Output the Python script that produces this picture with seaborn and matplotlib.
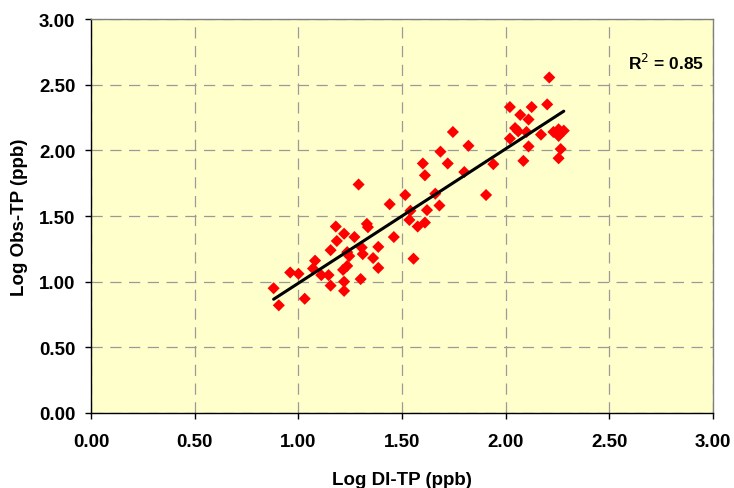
import numpy as np
import pandas as pd
import matplotlib
matplotlib.use("Agg")
import matplotlib.pyplot as plt
import seaborn as sns

log_di_tp = [0.88, 0.905, 0.96, 1.00, 1.03, 1.08, 1.07, 1.11, 1.145, 1.155,
             1.155, 1.185, 1.18, 1.22, 1.22, 1.215, 1.235, 1.245, 1.235, 1.22,
             1.27, 1.29, 1.30, 1.305, 1.31, 1.33, 1.335, 1.36, 1.385, 1.385,
             1.44, 1.46, 1.515, 1.54, 1.535, 1.555, 1.575, 1.61, 1.62, 1.60,
             1.61, 1.66, 1.68, 1.685, 1.72, 1.745, 1.80, 1.82, 1.905, 1.94,
             2.02, 2.02, 2.045, 2.06, 2.07, 2.085, 2.10, 2.11, 2.11, 2.125,
             2.17, 2.20, 2.21, 2.23, 2.255, 2.28, 2.255, 2.265, 2.255]
log_obs_tp = [0.95, 0.82, 1.07, 1.06, 0.87, 1.16, 1.10, 1.05, 1.05, 0.97,
              1.24, 1.31, 1.42, 1.00, 0.93, 1.09, 1.12, 1.195, 1.225, 1.365,
              1.34, 1.74, 1.02, 1.26, 1.21, 1.44, 1.415, 1.18, 1.265, 1.105,
              1.59, 1.34, 1.66, 1.54, 1.47, 1.175, 1.42, 1.45, 1.545, 1.90,
              1.81, 1.67, 1.58, 1.99, 1.90, 2.14, 1.835, 2.035, 1.66, 1.895,
              2.33, 2.09, 2.17, 2.145, 2.27, 1.92, 2.14, 2.235, 2.03, 2.33,
              2.12, 2.35, 2.555, 2.14, 2.16, 2.15, 2.11, 2.01, 1.94]
tick_values = [0.0, 0.5, 1.0, 1.5, 2.0, 2.5, 3.0]
r2_label = "R$^2$ = 0.85"

df = pd.DataFrame({"x": log_di_tp, "y": log_obs_tp})

sns.set_style("white")
plt.rcParams["font.family"] = ["Liberation Sans", "DejaVu Sans"]
plt.rcParams["text.color"] = "black"
plt.rcParams["axes.labelcolor"] = "black"
plt.rcParams["xtick.color"] = "black"
plt.rcParams["ytick.color"] = "black"

fig = plt.figure(figsize=(7.34, 4.89), dpi=100)
ax = fig.add_axes([0.1243, 0.1534, 0.9714 - 0.1243, 0.959 - 0.1534])
ax.set_facecolor("#FFFFCC")

sns.regplot(data=df, x="x", y="y", ax=ax, ci=None, truncate=True,
            marker="D",
            scatter_kws=dict(s=38, color="#FF0000", edgecolors="none", alpha=1, zorder=3),
            line_kws=dict(color="black", lw=2.2, zorder=4))

ax.set_xlim(0, 3)
ax.set_ylim(0, 3)
ax.set_xticks(tick_values)
ax.set_yticks(tick_values)
ax.set_xticklabels([f"{v:.2f}" for v in tick_values])
ax.set_yticklabels([f"{v:.2f}" for v in tick_values])
ax.grid(True, color="#9a9a9a", linestyle=(0, (9, 6)), lw=0.9)
ax.set_axisbelow(True)

for lab in ax.get_xticklabels() + ax.get_yticklabels():
    lab.set_fontweight("bold")
    lab.set_fontsize(13.5)
    lab.set_color("black")
ax.tick_params(axis="both", direction="out", length=4.5, width=1, color="black",
               labelcolor="black", bottom=True, left=True)
ax.tick_params(axis="x", pad=10)
ax.tick_params(axis="y", pad=7)

ax.set_xlabel("Log DI-TP (ppb)", fontsize=13.5, fontweight="bold", labelpad=15,
              color="black")
ax.set_ylabel("Log Obs-TP (ppb)", fontsize=13.5, fontweight="bold", labelpad=8,
              color="black")

for s in ["left", "bottom"]:
    ax.spines[s].set_color("black")
    ax.spines[s].set_linewidth(1)
for s in ["top", "right"]:
    ax.spines[s].set_color("#808080")
    ax.spines[s].set_linewidth(1)

ax.text(0.985, 0.89, r2_label, transform=ax.transAxes, ha="right", va="center",
        fontsize=12.5, fontweight="bold", color="black")

fig.savefig("out.png", dpi=100)
